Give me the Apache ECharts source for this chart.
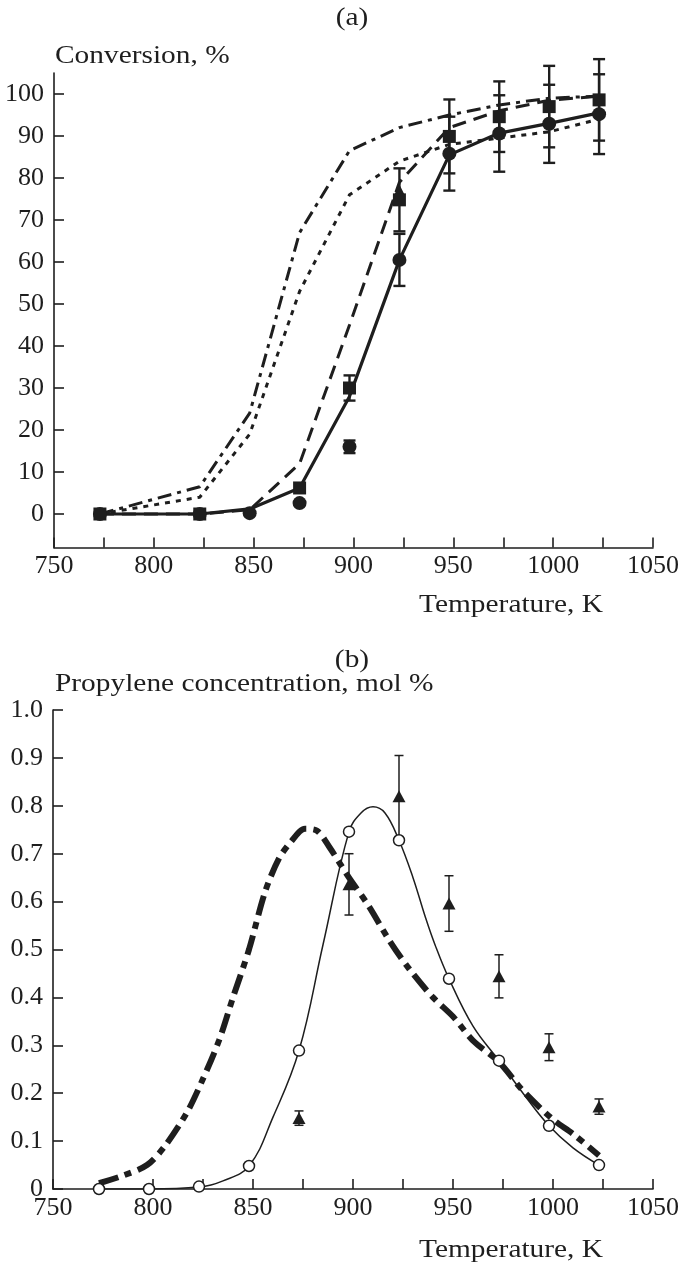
<!DOCTYPE html>
<html>
<head>
<meta charset="utf-8">
<script src="https://cdn.jsdelivr.net/npm/echarts@6/dist/echarts.min.js"></script>
<style>
html,body{margin:0;padding:0;background:#fff;}
#chart{width:685px;height:1271px;}
</style>
</head>
<body>
<div id="chart"></div>
<script>
// ---------- Tick labels ----------
const xTicks = [750,775,800,825,850,875,900,925,950,975,1000,1025,1050];
const xLabels = [750,800,850,900,950,1000,1050];
const yTicksA = [0,10,20,30,40,50,60,70,80,90,100];
const yTicksB = [0,0.1,0.2,0.3,0.4,0.5,0.6,0.7,0.8,0.9,1.0];

// ---------- Panel (a): conversion, % ----------
const tA = [773,823,848,873,898,923,948,973,998,1023];
const convCircles = [0,0,0.2,2.6,16,60.5,85.8,90.6,92.9,95.2];
const errCircles  = [null,null,null,null,1.5,6.2,8.8,9.1,9.3,9.5];
const convSquares = [0,0,null,6.2,30,74.8,89.9,94.6,97,98.6];
const errSquares  = [null,null,null,null,3,7.5,8.8,8.4,9.7,9.7];
const tTriA = [923];
const convTriA = [77];
const modelSolid   = [0,0,1.2,6.2,28,60.5,85.5,90.7,93,95.5];
const modelDashed  = [0,0,1,12,45,79,92,96,98.5,99.5];
const modelDotted  = [0,4,19,53,76,84,88,89.5,91,94];
const modelDashDot = [0,6.5,24,67,86.5,92,95,97.4,99,99.5];

// ---------- Panel (b): propylene concentration, mol % ----------
const tB = [773,798,823,848,873,898,923,948,973,998,1023];
const propCircles = [0,0,0.005,0.048,0.289,0.746,0.728,0.439,0.268,0.132,0.05];
const tTriB = [873,898,923,948,973,998,1023];
const propTri = [0.148,0.636,0.82,0.596,0.444,0.296,0.172];
const errTri  = [0.015,0.064,0.085,0.058,0.045,0.028,0.016];
const tFit = [773,798,823,835,848,860,873,885,898,904,910,916,923,930,936,941,948,960,973,985,998,1010,1023];
const fitCurve = [0,0,0.004,0.017,0.048,0.15,0.289,0.51,0.746,0.785,0.798,0.785,0.728,0.65,0.57,0.51,0.439,0.34,0.268,0.2,0.132,0.086,0.05];
const tDD = [773,785,797,806,817,825,833,840,848,856,863,869,876,882,888,898,908,918,928,940,950,960,973,985,1000,1010,1023];
const ddCurve = [0.012,0.028,0.05,0.09,0.16,0.23,0.31,0.40,0.5,0.62,0.69,0.725,0.752,0.748,0.715,0.65,0.59,0.52,0.46,0.40,0.36,0.31,0.265,0.205,0.145,0.115,0.07];

// ---------- helpers ----------
const INK = '#1e1e1e';
const FONT = 'Liberation Serif';
const FS = 26;
function pairs(xs, ys){ const o=[]; xs.forEach((x,i)=>{ if(ys[i]!==null && ys[i]!==undefined) o.push([x,ys[i]]); }); return o; }
function triples(xs, ys, es){ const o=[]; xs.forEach((x,i)=>{ if(es[i]!==null && es[i]!==undefined && ys[i]!==null) o.push([x,ys[i],es[i]]); }); return o; }
function errRender(capHalf, lw){
  return function(params, api){
    const x=api.value(0), y=api.value(1), e=api.value(2);
    const p1=api.coord([x,y+e]), p2=api.coord([x,y-e]);
    const st={stroke:INK, lineWidth:lw};
    return {type:'group', children:[
      {type:'line', shape:{x1:p1[0],y1:p1[1],x2:p2[0],y2:p2[1]}, style:st},
      {type:'line', shape:{x1:p1[0]-capHalf,y1:p1[1],x2:p1[0]+capHalf,y2:p1[1]}, style:st},
      {type:'line', shape:{x1:p2[0]-capHalf,y1:p2[1],x2:p2[0]+capHalf,y2:p2[1]}, style:st}
    ]};
  };
}
function xAxisCfg(gi){
  return {
    type:'value', gridIndex:gi, min:750, max:1050,
    axisLine:{show:true, onZero:false, lineStyle:{color:INK, width:1.6}},
    axisTick:{show:true, inside:true, length:10, customValues:xTicks, lineStyle:{color:INK, width:1.6}},
    axisLabel:{customValues:xLabels, margin:6, color:INK, fontFamily:FONT, fontSize:FS,
      formatter:function(v){ return String(v); }},
    splitLine:{show:false}
  };
}
function lineSeries(gi, data, width, type, smooth){
  return {type:'line', xAxisIndex:gi, yAxisIndex:gi, data:data, showSymbol:false, symbol:'none',
    smooth:smooth||false, lineStyle:{color:INK, width:width, type:type, cap:'butt', opacity:1}, z:2, silent:true};
}
function label(text, x, y, align){
  return {type:'text', x:x, y:y, scaleX:1.13, scaleY:1,
    style:{text:text, x:0, y:0, textAlign:align, textVerticalAlign:'middle', font:FS+'px "'+FONT+'"', fill:INK}};
}

const chart = echarts.init(document.getElementById('chart'), null, {renderer:'canvas'});
chart.setOption({
  animation:false,
  backgroundColor:'#fff',
  grid:[
    {left:54, right:32, top:73, height:474.6},
    {left:53, right:32, top:710, height:479}
  ],
  xAxis:[xAxisCfg(0), xAxisCfg(1)],
  yAxis:[
    {type:'value', gridIndex:0, min:-8, max:105,
     axisLine:{show:true, onZero:false, lineStyle:{color:INK, width:1.6}},
     axisTick:{show:true, inside:true, length:10, customValues:yTicksA, lineStyle:{color:INK, width:1.6}},
     axisLabel:{customValues:yTicksA, margin:10, color:INK, fontFamily:FONT, fontSize:FS},
     splitLine:{show:false}},
    {type:'value', gridIndex:1, min:0, max:1,
     axisLine:{show:true, onZero:false, lineStyle:{color:INK, width:1.6}},
     axisTick:{show:true, inside:true, length:10, customValues:yTicksB, lineStyle:{color:INK, width:1.6}},
     axisLabel:{customValues:yTicksB, margin:10, color:INK, fontFamily:FONT, fontSize:FS,
       formatter:function(v){ return v===0 ? '0' : v.toFixed(1); }},
     splitLine:{show:false}}
  ],
  graphic:[
    label('(a)', 352, 18, 'center'),
    label('Conversion, %', 55, 56, 'left'),
    label('Temperature, K', 603, 605, 'right'),
    label('(b)', 352, 660, 'center'),
    label('Propylene concentration, mol %', 55, 684, 'left'),
    label('Temperature, K', 603, 1250, 'right')
  ],
  series:[
    // panel (a) model lines
    lineSeries(0, pairs(tA, modelDashDot), 3, [14,6,4,6]),
    lineSeries(0, pairs(tA, modelDotted), 3, [5,6]),
    lineSeries(0, pairs(tA, modelDashed), 3, [14,8]),
    lineSeries(0, pairs(tA, modelSolid), 3.2, 'solid'),
    // error bars (a)
    {type:'custom', xAxisIndex:0, yAxisIndex:0, data:triples(tA, convSquares, errSquares), renderItem:errRender(6,2.4), clip:false, z:3, silent:true},
    {type:'custom', xAxisIndex:0, yAxisIndex:0, data:triples(tA, convCircles, errCircles), renderItem:errRender(6,2.4), clip:false, z:3, silent:true},
    // markers (a)
    {type:'scatter', xAxisIndex:0, yAxisIndex:0, data:pairs(tTriA, convTriA), symbol:'triangle', symbolSize:[12,12], itemStyle:{color:INK, opacity:1}, z:4, silent:true},
    {type:'scatter', xAxisIndex:0, yAxisIndex:0, data:pairs(tA, convSquares), symbol:'rect', symbolSize:13, itemStyle:{color:INK, opacity:1}, z:5, silent:true},
    {type:'scatter', xAxisIndex:0, yAxisIndex:0, data:pairs(tA, convCircles), symbol:'circle', symbolSize:14, itemStyle:{color:INK, opacity:1}, z:6, silent:true},

    // panel (b)
    lineSeries(1, pairs(tDD, ddCurve), 6, [20,7,7,7], 0.3),
    lineSeries(1, pairs(tFit, fitCurve), 1.5, 'solid', 0.4),
    {type:'custom', xAxisIndex:1, yAxisIndex:1, data:triples(tTriB, propTri, errTri), renderItem:errRender(4.5,1.5), clip:false, z:3, silent:true},
    {type:'scatter', xAxisIndex:1, yAxisIndex:1, data:pairs(tTriB, propTri), symbol:'triangle', symbolSize:[13,12], itemStyle:{color:INK, opacity:1}, z:5, silent:true},
    {type:'scatter', xAxisIndex:1, yAxisIndex:1, data:pairs(tB, propCircles), symbol:'circle', symbolSize:11, itemStyle:{color:'#fff', borderColor:INK, borderWidth:1.5, opacity:1}, z:6, silent:true}
  ]
});
</script>
</body>
</html>
